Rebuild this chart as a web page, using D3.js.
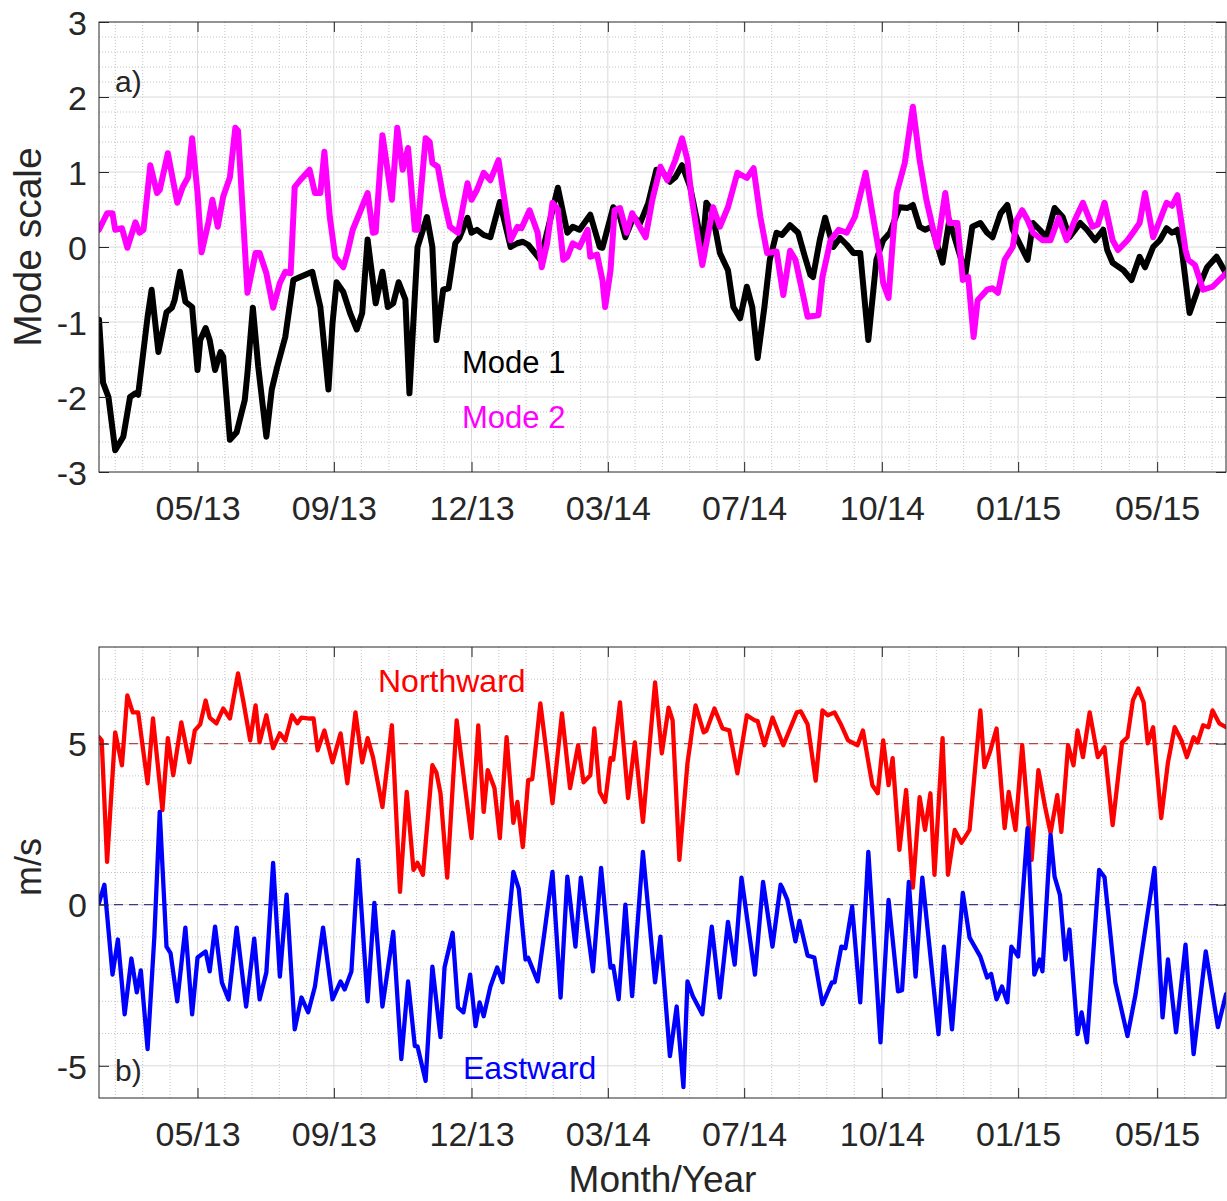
<!DOCTYPE html>
<html>
<head>
<meta charset="utf-8">
<script src="https://cdn.jsdelivr.net/npm/d3@7"></script>
<style>
  body { margin: 0; background: #fff; }
  svg { display: block; }
  text { font-family: "Liberation Sans", Arial, Helvetica, sans-serif; }
</style>
</head>
<body>
<svg id="chart" width="1227" height="1201"></svg>
<script>
// time axis: series x values are days counted from startDate
const startDate = "2013-03-14";
const endDate = "2015-06-27";
const tickDates = ["2013-05-26", "2013-09-04", "2013-12-15", "2014-03-26", "2014-07-05", "2014-10-15", "2015-01-24", "2015-05-07"];
const tickLabels = ["05/13", "09/13", "12/13", "03/14", "07/14", "10/14", "01/15", "05/15"];

const modeTicks = [-3, -2, -1, 0, 1, 2, 3];
const speedTicks = [-5, 0, 5];
const northRef = 5;
const eastRef = 0;

// panel a) mode scale, [day, value]
const mode1 = [[0,-0.97],[3,-1.81],[7,-2.0],[12,-2.71],[18,-2.53],[23,-2.0],[27,-1.95],[29,-1.97],[36,-0.93],[39,-0.57],[44,-1.4],[50,-0.87],[54,-0.81],[56,-0.71],[60,-0.33],[64,-0.73],[69,-0.8],[73,-1.64],[75,-1.24],[79,-1.08],[82,-1.24],[86,-1.64],[90,-1.4],[92,-1.46],[97,-2.57],[102,-2.47],[108,-2.04],[110,-1.68],[114,-0.81],[118,-1.6],[124,-2.53],[128,-1.9],[132,-1.6],[138,-1.2],[144,-0.44],[149,-0.4],[158,-0.33],[164,-0.8],[170,-1.9],[173,-1.02],[176,-0.47],[181,-0.6],[186,-0.88],[191,-1.1],[195,-0.88],[199,0.1],[205,-0.75],[210,-0.33],[214,-0.8],[218,-0.75],[222,-0.47],[227,-0.7],[230,-1.95],[236,0.0],[243,0.4],[247,0.0],[250,-1.24],[255,-0.57],[259,-0.55],[264,0.05],[267,0.12],[273,0.39],[276,0.19],[280,0.23],[285,0.16],[290,0.13],[297,0.6],[305,0.0],[310,0.05],[314,0.07],[318,0.03],[327,-0.17],[333,0.27],[340,0.79],[347,0.19],[351,0.27],[356,0.23],[364,0.43],[371,0.0],[373,-0.01],[381,0.53],[386,0.4],[390,0.13],[396,0.4],[401,0.32],[407,0.59],[413,1.03],[418,0.99],[423,0.87],[427,0.93],[432,1.09],[438,0.8],[443,0.36],[447,-0.04],[450,0.59],[454,0.49],[460,-0.08],[466,-0.31],[470,-0.8],[475,-0.95],[480,-0.53],[484,-0.8],[488,-1.48],[493,-0.8],[497,-0.17],[502,0.19],[506,0.16],[512,0.29],[518,0.19],[523,-0.13],[527,-0.37],[529,-0.4],[534,0.09],[538,0.39],[544,0.0],[549,0.12],[554,0.03],[559,-0.08],[564,-0.08],[570,-1.24],[576,-0.17],[581,0.09],[586,0.19],[593,0.53],[599,0.52],[603,0.56],[608,0.27],[612,0.23],[617,0.27],[625,-0.21],[630,0.36],[636,0.0],[642,-0.35],[647,0.27],[653,0.32],[658,0.19],[662,0.13],[668,0.45],[673,0.56],[677,0.23],[688,-0.17],[692,0.32],[697,0.23],[702,0.13],[708,0.52],[714,0.4],[719,0.13],[727,0.32],[732,0.23],[738,0.09],[744,0.23],[747,-0.04],[751,-0.21],[759,-0.31],[765,-0.44],[771,-0.13],[775,-0.27],[781,0.0],[786,0.09],[791,0.25],[795,0.19],[799,0.23],[802,0.0],[808,-0.88],[814,-0.57],[821,-0.27],[828,-0.13],[835,-0.35]];

const mode2 = [[0,0.23],[6,0.45],[10,0.45],[12,0.23],[17,0.25],[21,-0.01],[27,0.33],[30,0.19],[33,0.23],[38,1.09],[43,0.72],[45,0.76],[51,1.25],[58,0.59],[62,0.8],[66,0.93],[69,1.45],[73,0.72],[76,-0.07],[81,0.32],[84,0.63],[88,0.27],[92,0.67],[97,0.93],[101,1.59],[103,1.55],[110,-0.61],[116,-0.08],[119,-0.08],[124,-0.35],[129,-0.81],[134,-0.48],[138,-0.33],[142,-0.35],[145,0.8],[149,0.89],[156,1.03],[160,0.72],[164,0.72],[167,1.27],[171,0.4],[175,-0.13],[181,-0.27],[184,-0.08],[188,0.23],[193,0.45],[199,0.72],[203,0.19],[205,0.2],[210,1.49],[217,0.63],[221,1.59],[225,1.03],[229,1.32],[234,0.23],[236,0.23],[242,1.45],[245,1.4],[247,1.12],[251,1.07],[255,0.67],[260,0.27],[266,0.19],[273,0.85],[276,0.63],[280,0.76],[285,0.99],[290,0.89],[296,1.16],[299,0.8],[305,0.09],[310,0.27],[313,0.25],[319,0.49],[325,0.19],[328,-0.27],[332,0.05],[336,0.59],[340,0.5],[344,-0.17],[347,-0.13],[351,0.05],[356,0.0],[362,0.23],[364,-0.13],[369,-0.1],[373,-0.44],[375,-0.8],[379,-0.31],[382,0.49],[386,0.52],[391,0.19],[395,0.45],[399,0.32],[405,0.13],[410,0.63],[416,1.07],[421,0.89],[427,1.16],[432,1.45],[436,1.16],[439,0.67],[444,0.09],[447,-0.24],[450,0.05],[455,0.53],[460,0.27],[466,0.53],[473,0.99],[480,0.92],[485,1.05],[490,0.4],[495,-0.08],[502,-0.06],[507,-0.64],[512,-0.05],[516,-0.17],[522,-0.67],[525,-0.93],[533,-0.91],[536,-0.4],[542,0.09],[548,0.23],[554,0.19],[560,0.4],[568,0.99],[573,0.45],[579,-0.17],[581,-0.48],[585,-0.68],[588,0.05],[591,0.72],[597,1.12],[603,1.87],[608,1.16],[613,0.63],[621,0.0],[627,0.72],[630,0.32],[636,0.32],[640,-0.44],[644,-0.4],[648,-1.2],[651,-0.71],[658,-0.57],[662,-0.55],[666,-0.61],[671,-0.17],[677,0.0],[680,0.36],[684,0.49],[688,0.36],[692,0.19],[699,0.09],[705,0.09],[711,0.39],[717,0.09],[723,0.36],[729,0.59],[736,0.27],[740,0.3],[745,0.59],[751,0.09],[755,-0.04],[762,0.09],[766,0.19],[771,0.32],[775,0.72],[781,0.13],[786,0.36],[791,0.59],[795,0.55],[799,0.69],[805,-0.04],[807,-0.17],[812,-0.24],[818,-0.57],[825,-0.53],[835,-0.35]];

// panel b) wind components in m/s, [day, value]
const northward = [[0,5.2],[2,5.1],[6,1.33],[12,5.35],[17,4.33],[21,6.5],[25,5.97],[29,5.97],[36,3.77],[40,5.78],[47,2.94],[51,5.17],[55,4.02],[61,5.66],[67,4.42],[71,5.41],[75,5.6],[79,6.34],[82,5.81],[87,5.63],[92,6.09],[97,5.78],[103,7.18],[107,6.3],[112,5.1],[116,6.19],[119,5.04],[124,5.88],[128,5.04],[129,4.86],[134,5.32],[138,5.1],[143,5.88],[147,5.63],[150,5.81],[156,5.78],[159,5.78],[162,4.79],[167,5.41],[173,4.42],[179,5.32],[184,3.77],[190,5.97],[195,4.42],[199,5.17],[203,4.58],[210,3.03],[217,5.57],[223,0.4],[228,3.5],[233,1.08],[236,1.3],[240,0.93],[247,4.33],[250,4.1],[253,3.46],[258,0.84],[265,5.72],[271,3.71],[276,2.07],[281,5.57],[285,2.88],[288,4.18],[293,3.62],[297,2.07],[302,5.2],[307,2.54],[310,3.19],[314,1.79],[318,3.87],[321,3.9],[327,6.25],[332,4.58],[336,3.15],[343,5.94],[349,3.62],[355,4.95],[359,3.8],[364,4.02],[367,5.47],[371,3.5],[375,3.19],[379,4.55],[381,4.5],[386,6.28],[392,3.31],[397,5.04],[403,2.57],[412,6.9],[417,4.7],[422,6.12],[425,5.72],[430,1.39],[436,4.39],[442,6.19],[448,5.35],[450,5.4],[456,6.09],[462,5.47],[467,5.41],[473,4.08],[480,5.88],[486,5.72],[488,5.7],[493,4.95],[499,5.81],[507,4.95],[517,5.97],[520,6.0],[525,5.6],[531,3.85],[536,6.03],[540,5.88],[545,5.97],[550,5.57],[555,5.1],[562,4.95],[566,5.41],[573,3.71],[577,3.46],[581,5.1],[585,3.71],[588,4.55],[593,1.7],[598,3.56],[603,0.53],[608,3.34],[612,2.32],[616,3.46],[619,0.93],[625,5.17],[629,0.93],[634,2.32],[639,1.92],[645,2.32],[653,6.03],[656,4.27],[660,4.73],[665,5.47],[671,2.38],[674,3.5],[679,2.32],[684,4.95],[691,1.39],[696,4.18],[701,3.03],[705,2.23],[710,3.4],[713,2.26],[718,4.95],[722,4.33],[725,5.41],[729,4.58],[734,5.97],[740,4.58],[745,4.89],[751,2.47],[758,5.04],[762,5.2],[766,6.34],[770,6.71],[774,6.28],[777,5.01],[781,5.51],[787,2.69],[792,4.42],[797,5.51],[802,5.1],[806,4.58],[811,5.2],[814,5.04],[818,5.57],[822,5.51],[825,6.03],[830,5.63],[835,5.51]];

const eastward = [[0,0.06],[4,0.62],[10,-2.17],[14,-1.08],[19,-3.4],[24,-1.67],[28,-2.72],[31,-2.04],[36,-4.48],[41,-1.0],[45,2.88],[50,-1.3],[53,-1.5],[58,-3.0],[64,-0.71],[69,-3.4],[73,-1.64],[79,-1.45],[82,-2.07],[86,-0.68],[91,-2.41],[96,-2.94],[102,-0.71],[109,-3.16],[115,-1.05],[119,-2.94],[124,-2.1],[129,1.3],[134,-2.23],[139,0.31],[145,-3.87],[150,-2.88],[155,-3.34],[160,-2.54],[166,-0.71],[173,-2.94],[179,-2.38],[182,-2.63],[187,-2.07],[192,1.39],[199,-3.0],[204,0.06],[210,-3.16],[218,-0.84],[224,-4.79],[229,-2.38],[234,-4.39],[236,-4.4],[242,-5.47],[247,-1.92],[253,-4.11],[256,-1.95],[262,-0.87],[266,-3.19],[270,-3.34],[275,-2.17],[279,-3.77],[282,-3.03],[285,-3.46],[290,-2.54],[295,-1.95],[299,-2.41],[307,1.02],[311,0.5],[316,-1.7],[318,-1.65],[325,-2.38],[330,-0.87],[336,1.02],[342,-2.88],[347,0.87],[353,-1.3],[357,0.84],[362,-0.8],[366,-2.07],[372,1.14],[379,-1.95],[381,-1.9],[385,-2.94],[390,0.0],[395,-2.84],[403,1.64],[412,-2.41],[416,-0.99],[423,-4.7],[428,-3.16],[433,-5.66],[436,-2.38],[440,-2.84],[447,-3.4],[454,-0.68],[460,-2.88],[466,-0.53],[471,-1.86],[476,0.84],[486,-2.17],[492,0.71],[499,-1.3],[505,0.62],[506,0.55],[510,0.15],[516,-1.14],[519,-0.5],[525,-1.58],[530,-1.64],[536,-3.09],[543,-2.41],[545,-2.41],[550,-1.3],[553,-1.35],[558,-0.06],[564,-3.03],[570,1.64],[579,-4.27],[585,0.15],[592,-2.69],[595,-2.65],[600,0.71],[605,-2.23],[610,0.84],[622,-4.02],[626,-1.3],[632,-3.87],[640,0.37],[645,-1.02],[653,-1.61],[658,-2.26],[661,-2.15],[665,-2.94],[669,-2.54],[673,-3.03],[676,-1.3],[681,-1.61],[688,2.38],[693,-2.17],[697,-1.7],[699,-2.07],[705,2.17],[708,0.87],[712,0.3],[716,-1.7],[719,-0.77],[725,-4.02],[728,-3.34],[732,-4.27],[741,1.08],[745,0.85],[753,-2.41],[762,-4.08],[768,-2.78],[782,1.14],[788,-3.5],[792,-1.7],[798,-3.96],[805,-1.24],[811,-4.64],[820,-1.45],[829,-3.8],[835,-2.78]];

const svg = d3.select("#chart");
const axisColor = "#262626";
const left = 99, right = 1226;

const parseDay = d3.utcParse("%Y-%m-%d");
const t0 = parseDay(startDate);
const ticks = tickDates.map(parseDay);
const toDate = d => new Date(t0.getTime() + d * 864e5);

const x = d3.scaleUtc()
  .domain([t0, parseDay(endDate)])
  .range([left, right]);

// minor grid: 5 subdivisions of each tick interval, continued past the end ticks
const minorX = [];
const meanStep = (ticks[ticks.length - 1] - ticks[0]) / (ticks.length - 1) / 5;
for (let t = +ticks[0] - meanStep; t > +x.domain()[0]; t -= meanStep) minorX.push(new Date(t));
for (let i = 0; i < ticks.length - 1; i++) {
  const s = (ticks[i + 1] - ticks[i]) / 5;
  for (let k = 1; k < 5; k++) minorX.push(new Date(+ticks[i] + k * s));
}
for (let t = +ticks[ticks.length - 1] + meanStep; t < +x.domain()[1]; t += meanStep) minorX.push(new Date(t));

function drawPanel(p) {
  const g = svg.append("g");
  const y = d3.scaleLinear().domain(p.yDomain).range([p.bottom, p.top]);

  g.append("clipPath").attr("id", p.id + "-clip")
    .append("rect")
    .attr("x", left).attr("y", p.top)
    .attr("width", right - left).attr("height", p.bottom - p.top);

  const minorY = d3.range(p.yDomain[0], p.yDomain[1] + 1e-9, p.minorStep)
    .filter(v => v > p.yDomain[0] + 1e-6 && v < p.yDomain[1] - 1e-6)
    .filter(v => !p.yTicks.some(t => Math.abs(t - v) < 1e-6));

  const grid = g.append("g");
  grid.selectAll(".mx").data(minorX).join("line")
    .attr("x1", d => x(d)).attr("x2", d => x(d))
    .attr("y1", p.top).attr("y2", p.bottom)
    .attr("stroke", "#c4c4c4").attr("stroke-width", 1)
    .attr("stroke-dasharray", "1,2");
  grid.selectAll(".my").data(minorY).join("line")
    .attr("x1", left).attr("x2", right)
    .attr("y1", d => y(d)).attr("y2", d => y(d))
    .attr("stroke", "#c4c4c4").attr("stroke-width", 1)
    .attr("stroke-dasharray", "1,2");
  grid.selectAll(".gx").data(ticks).join("line")
    .attr("x1", d => x(d)).attr("x2", d => x(d))
    .attr("y1", p.top).attr("y2", p.bottom)
    .attr("stroke", "#dadada").attr("stroke-width", 1);
  grid.selectAll(".gy").data(p.yTicks.filter(v => v > p.yDomain[0] && v < p.yDomain[1])).join("line")
    .attr("x1", left).attr("x2", right)
    .attr("y1", d => y(d)).attr("y2", d => y(d))
    .attr("stroke", "#dadada").attr("stroke-width", 1);

  const plot = g.append("g").attr("clip-path", `url(#${p.id}-clip)`);

  (p.refs || []).forEach(r => {
    plot.append("line")
      .attr("x1", left).attr("x2", right)
      .attr("y1", y(r.value)).attr("y2", y(r.value))
      .attr("stroke", r.color).attr("stroke-width", 1.3)
      .attr("stroke-dasharray", "9,6");
  });

  const line = d3.line()
    .x(d => x(toDate(d[0])))
    .y(d => y(d[1]));

  p.series.forEach(s => {
    plot.append("path")
      .datum(s.data)
      .attr("d", line)
      .attr("fill", "none")
      .attr("stroke", s.color)
      .attr("stroke-width", p.lineWidth)
      .attr("stroke-linejoin", "round")
      .attr("stroke-linecap", "round");
  });

  // axes, ticks pointing inward on all four sides
  const fontAxis = a => a.attr("font-family", null).attr("font-size", 34).attr("color", axisColor);

  g.append("g")
    .attr("transform", `translate(0,${p.bottom})`)
    .call(d3.axisBottom(x).tickValues(ticks).tickFormat((d, i) => tickLabels[i]).tickSize(-10).tickSizeOuter(0))
    .call(fontAxis)
    .call(a => a.select(".domain").remove())
    .call(a => a.selectAll("text").attr("y", 48).attr("dy", null));

  g.append("g")
    .attr("transform", `translate(0,${p.top})`)
    .call(d3.axisTop(x).tickValues(ticks).tickFormat("").tickSize(-10).tickSizeOuter(0))
    .call(fontAxis)
    .call(a => a.select(".domain").remove());

  g.append("g")
    .attr("transform", `translate(${left},0)`)
    .call(d3.axisLeft(y).tickValues(p.yTicks).tickFormat(d => String(d)).tickSize(-10).tickSizeOuter(0).tickPadding(12))
    .call(fontAxis)
    .call(a => a.select(".domain").remove())
    .call(a => a.selectAll("text").attr("dy", "0.36em"));

  g.append("g")
    .attr("transform", `translate(${right},0)`)
    .call(d3.axisRight(y).tickValues(p.yTicks).tickFormat("").tickSize(-10).tickSizeOuter(0))
    .call(fontAxis)
    .call(a => a.select(".domain").remove());

  g.append("rect")
    .attr("x", left).attr("y", p.top)
    .attr("width", right - left).attr("height", p.bottom - p.top)
    .attr("fill", "none").attr("stroke", axisColor).attr("stroke-width", 1);

  g.append("text")
    .attr("transform", `translate(41,${p.labelY}) rotate(-90)`)
    .attr("text-anchor", "middle")
    .attr("font-size", p.labelSize)
    .attr("fill", axisColor)
    .text(p.label);

  (p.notes || []).forEach(n => {
    g.append("text")
      .attr("x", n.x).attr("y", n.y)
      .attr("font-size", n.size)
      .attr("fill", n.color)
      .text(n.text);
  });

  return y;
}

drawPanel({
  id: "a", top: 22, bottom: 472,
  yDomain: [-3, 3], yTicks: modeTicks, minorStep: 0.2,
  lineWidth: 6,
  label: "Mode scale", labelY: 247, labelSize: 39,
  series: [
    { data: mode1, color: "#000000" },
    { data: mode2, color: "#ff00ff" }
  ],
  notes: [
    { text: "a)", x: 115, y: 92, size: 30, color: axisColor },
    { text: "Mode 1", x: 462, y: 373, size: 31, color: "#000000" },
    { text: "Mode 2", x: 462, y: 428, size: 31, color: "#ff00ff" }
  ]
});

drawPanel({
  id: "b", top: 647, bottom: 1098,
  yDomain: [-6, 8], yTicks: speedTicks, minorStep: 1,
  lineWidth: 4.3,
  label: "m/s", labelY: 867, labelSize: 36,
  refs: [
    { value: northRef, color: "#b04848" },
    { value: eastRef, color: "#3a3a8c" }
  ],
  series: [
    { data: northward, color: "#ff0000" },
    { data: eastward, color: "#0000ff" }
  ],
  notes: [
    { text: "b)", x: 115, y: 1081, size: 30, color: axisColor },
    { text: "Northward", x: 378, y: 692, size: 32, color: "#ff0000" },
    { text: "Eastward", x: 463, y: 1079, size: 32, color: "#0000ff" }
  ]
});

svg.append("text")
  .attr("x", (left + right) / 2).attr("y", 1192)
  .attr("text-anchor", "middle")
  .attr("font-size", 37)
  .attr("fill", axisColor)
  .text("Month/Year");
</script>
</body>
</html>
